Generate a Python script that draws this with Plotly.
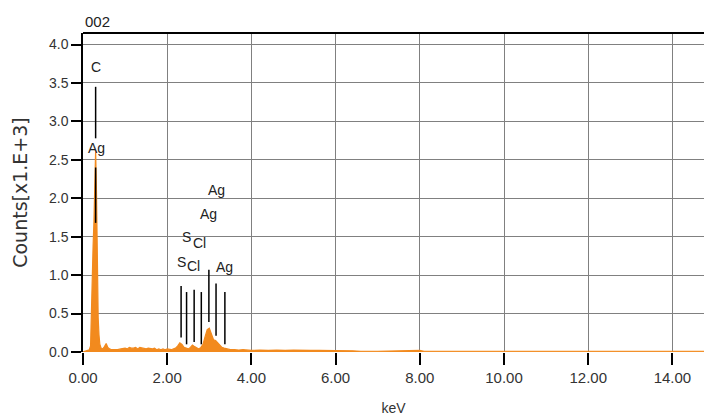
import plotly.graph_objects as go

# ---- spectrum (keV, counts in thousands) ----
energy_kev = [0.00, 0.05, 0.10, 0.15, 0.18, 0.20, 0.22, 0.24, 0.26, 0.28, 0.30, 0.32, 0.34, 0.36, 0.38,
              0.40, 0.43, 0.47, 0.51, 0.55, 0.59, 0.63, 0.68, 0.75, 0.82, 0.90, 0.95, 1.00, 1.05, 1.10,
              1.15, 1.20, 1.25, 1.30, 1.35, 1.40, 1.45, 1.50, 1.55, 1.60, 1.65, 1.70, 1.75, 1.80, 1.85,
              1.90, 1.95, 2.00, 2.05, 2.10, 2.15, 2.20, 2.25, 2.30, 2.35, 2.40, 2.45, 2.50, 2.55, 2.60,
              2.65, 2.70, 2.75, 2.80, 2.85, 2.90, 2.95, 3.00, 3.05, 3.10, 3.15, 3.20, 3.25, 3.30, 3.35,
              3.40, 3.50, 3.60, 3.70, 3.80, 3.90, 4.00, 4.20, 4.40, 4.60, 4.80, 5.00, 5.20, 5.40, 5.60,
              5.80, 6.00, 6.20, 6.40, 6.60, 7.00, 8.00, 8.10, 9.00, 10.00, 12.00, 14.75]
counts_k = [0.00, 0.01, 0.02, 0.03, 0.08, 0.60, 1.32, 1.38, 1.70, 2.35, 2.62, 2.10, 1.05, 0.45, 0.22,
            0.10, 0.05, 0.04, 0.07, 0.11, 0.06, 0.04, 0.03, 0.03, 0.03, 0.04, 0.05, 0.05, 0.04, 0.06,
            0.05, 0.05, 0.06, 0.04, 0.06, 0.05, 0.05, 0.04, 0.05, 0.04, 0.04, 0.05, 0.03, 0.04, 0.03,
            0.04, 0.03, 0.04, 0.03, 0.03, 0.04, 0.05, 0.08, 0.12, 0.10, 0.06, 0.05, 0.04, 0.06, 0.09,
            0.07, 0.05, 0.04, 0.06, 0.10, 0.20, 0.29, 0.31, 0.24, 0.16, 0.15, 0.12, 0.08, 0.06, 0.05,
            0.04, 0.03, 0.03, 0.025, 0.03, 0.025, 0.02, 0.025, 0.02, 0.025, 0.02, 0.025, 0.02, 0.02, 0.02,
            0.02, 0.015, 0.015, 0.015, 0.01, 0.01, 0.02, 0.01, 0.01, 0.01, 0.01, 0.01]

# ---- element marker lines (keV, top, bottom) ----
line_kev = [0.30, 0.30, 2.33, 2.46, 2.64, 2.81, 2.99, 3.16, 3.37]
line_top = [3.45, 2.40, 0.86, 0.78, 0.81, 0.78, 1.07, 0.89, 0.78]
line_bottom = [2.78, 1.68, 0.19, 0.10, 0.13, 0.10, 0.39, 0.21, 0.10]

# ---- element labels ----
label_text = ["C", "Ag", "S", "Cl", "S", "Cl", "Ag", "Ag", "Ag"]
label_kev = [0.31, 0.32, 2.35, 2.62, 2.47, 2.76, 3.36, 2.97, 3.16]
label_y = [3.71, 2.65, 1.17, 1.12, 1.49, 1.42, 1.11, 1.79, 2.11]

x_ticks = [0, 2, 4, 6, 8, 10, 12, 14]
x_tick_text = ["0.00", "2.00", "4.00", "6.00", "8.00", "10.00", "12.00", "14.00"]
y_ticks = [0, 0.5, 1.0, 1.5, 2.0, 2.5, 3.0, 3.5, 4.0]
y_tick_text = ["0.0", "0.5", "1.0", "1.5", "2.0", "2.5", "3.0", "3.5", "4.0"]

FONT = "Liberation Sans, Arial, sans-serif"

fig = go.Figure()
fig.add_trace(go.Scatter(
    x=energy_kev, y=counts_k, mode="lines", fill="tozeroy",
    line=dict(color="#F28A1E", width=1.2), fillcolor="#F28A1E",
    hoverinfo="skip", showlegend=False))

lx, ly = [], []
for k, t, b in zip(line_kev, line_top, line_bottom):
    lx += [k, k, None]
    ly += [b, t, None]
fig.add_trace(go.Scatter(x=lx, y=ly, mode="lines", line=dict(color="black", width=1.5),
                         hoverinfo="skip", showlegend=False))

for t, x, y in zip(label_text, label_kev, label_y):
    fig.add_annotation(x=x, y=y, text=t, showarrow=False,
                       font=dict(family=FONT, size=14, color="#222"))

fig.add_annotation(xref="paper", yref="paper", x=0, y=1.0, yshift=22, text="002",
                   xanchor="left", showarrow=False,
                   font=dict(family=FONT, size=15, color="#222"))

fig.update_layout(
    width=704, height=417,
    margin=dict(l=83, r=0, t=33, b=65, autoexpand=False),
    plot_bgcolor="white", paper_bgcolor="white",
    font=dict(family=FONT, size=14, color="#333"),
    xaxis=dict(range=[0, 14.75], tickvals=x_ticks, ticktext=x_tick_text, automargin=False,
               showgrid=True, gridcolor="#808080", gridwidth=1,
               ticks="outside", ticklen=12, tickcolor="black", tickwidth=1.5,
               tickfont=dict(size=15, color="#333"),
               showline=False, zeroline=False,
               title=dict(text="keV", font=dict(size=14, color="#333"), standoff=18)),
    yaxis=dict(range=[0, 4.15], tickvals=y_ticks, ticktext=y_tick_text, automargin=False,
               showgrid=True, gridcolor="#808080", gridwidth=1,
               ticks="outside", ticklen=10, tickcolor="black", tickwidth=1.5,
               tickfont=dict(size=14, color="#333"),
               showline=True, linecolor="black", linewidth=1.5, zeroline=False,
               title=dict(text="Counts[x1.E+3]",
                          font=dict(family="DejaVu Sans, sans-serif", size=19, color="#333"),
                          standoff=16)),
    shapes=[dict(type="line", xref="paper", yref="paper", x0=0, x1=1, y0=1, y1=1,
                 line=dict(color="black", width=2))],
)

fig.write_html("out.html", config={"displayModeBar": False},
               post_script="document.body.style.margin='0';document.body.style.overflow='hidden';")
